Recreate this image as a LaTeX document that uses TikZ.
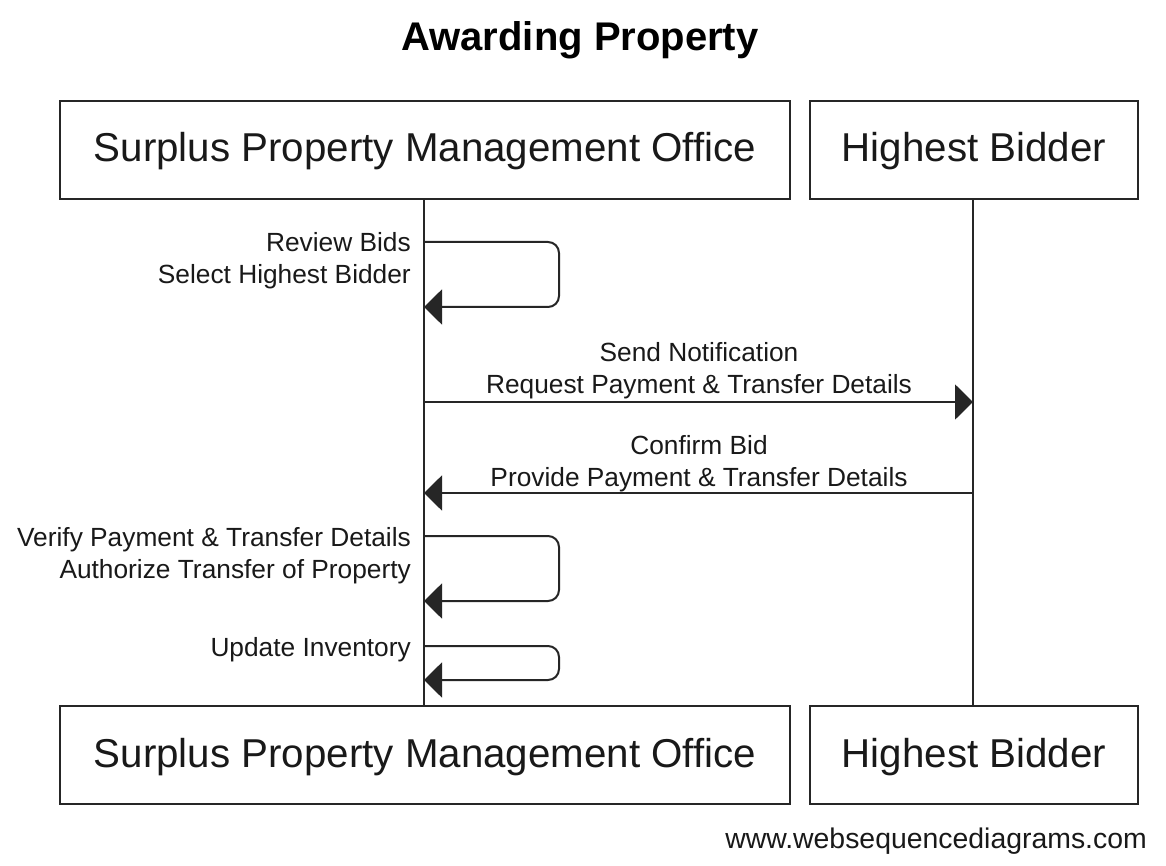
\documentclass[tikz,border=0pt]{standalone}
\usepackage{fontspec}
\setmainfont{Liberation Sans}
\usetikzlibrary{arrows.meta}
\tikzset{
  actor/.style={draw=black!85, line width=2pt, fill=white, inner sep=0pt,
    minimum height=98pt, text height=30pt, text depth=6pt,
    font=\fontsize{40.3}{48}\selectfont, text=black!90},
  lifeline/.style={draw=black!85, line width=2pt},
  msg/.style={draw=black!85, line width=2pt, -{Triangle[length=18pt,width=35pt]}},
  selfmsg/.style={msg, rounded corners=11pt},
  lbl/.style={inner sep=0pt, font=\fontsize{26.3}{32}\selectfont, text=black!90},
  ttl/.style={inner sep=0pt, font=\fontsize{40}{46}\selectfont\bfseries, text=black},
  foot/.style={inner sep=0pt, font=\fontsize{28.4}{33}\selectfont, text=black!90}
}
\begin{document}
\begin{tikzpicture}[x=1pt,y=-1pt]
\useasboundingbox (0,0) rectangle (1166,866);
\fill[white] (0,0) rectangle (1166,866);

\node[ttl, anchor=base] (title) at (580,51) {Awarding Property};

% lifelines
\coordinate (aT) at (424,199);
\coordinate (aB) at (424,706);
\coordinate (bT) at (973,199);
\coordinate (bB) at (973,706);
\draw[lifeline] (aT) -- (aB);
\draw[lifeline] (bT) -- (bB);

% actor boxes
\node[actor, minimum width=730pt] (spmoTop) at (425,150) {Surplus Property Management Office};
\node[actor, minimum width=328pt] (hbTop) at (974,150) {Highest Bidder};
\node[actor, minimum width=730pt] (spmoBot) at (425,755) {Surplus Property Management Office};
\node[actor, minimum width=328pt] (hbBot) at (974,755) {Highest Bidder};

% self message 1
\coordinate (s1a) at (424,242);
\coordinate (s1b) at (424,307);
\draw[selfmsg] (s1a) -- ++(135,0) |- (s1b);
\node[lbl, anchor=base east] (l1a) at (411,252) {Review Bids};
\node[lbl, anchor=base east] (l1b) at (411,284) {Select Highest Bidder};

% message 2
\coordinate (m2a) at (424,402);
\coordinate (m2b) at (973,402);
\draw[msg] (m2a) -- (m2b);
\node[lbl, anchor=base] (l2a) at (699,361) {Send Notification};
\node[lbl, anchor=base] (l2b) at (699,393) {Request Payment \& Transfer Details};

% message 3
\coordinate (m3a) at (973,493);
\coordinate (m3b) at (424,493);
\draw[msg] (m3a) -- (m3b);
\node[lbl, anchor=base] (l3a) at (699,454) {Confirm Bid};
\node[lbl, anchor=base] (l3b) at (699,486) {Provide Payment \& Transfer Details};

% self message 2
\coordinate (s2a) at (424,536);
\coordinate (s2b) at (424,601);
\draw[selfmsg] (s2a) -- ++(135,0) |- (s2b);
\node[lbl, anchor=base east] (l4a) at (411,546) {Verify Payment \& Transfer Details};
\node[lbl, anchor=base east] (l4b) at (411,578) {Authorize Transfer of Property};

% self message 3
\coordinate (s3a) at (424,646);
\coordinate (s3b) at (424,680);
\draw[selfmsg] (s3a) -- ++(135,0) |- (s3b);
\node[lbl, anchor=base east] (l5a) at (411,656) {Update Inventory};

\node[foot, anchor=base east] (footer) at (1147,848) {www.websequencediagrams.com};
\end{tikzpicture}
\end{document}
